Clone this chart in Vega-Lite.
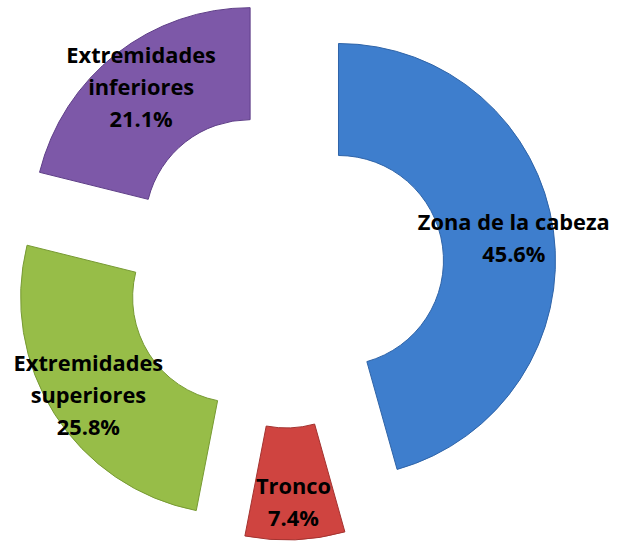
{
  "$schema": "https://vega.github.io/schema/vega-lite/v6.json",
  "autosize": {"type": "none"},
  "padding": {"left": 0, "top": 0, "right": 54, "bottom": 13},
  "width": 568,
  "height": 532,
  "background": "white",
  "view": {"stroke": null},
  "data": {
    "values": [
      {"idx": 1, "parte": "Zona de la cabeza", "pct": 45.6, "label": "Zona de la cabeza\n45.6%"},
      {"idx": 2, "parte": "Tronco", "pct": 7.4, "label": "Tronco\n7.4%"},
      {"idx": 3, "parte": "Extremidades superiores", "pct": 25.8, "label": "Extremidades\nsuperiores\n25.8%"},
      {"idx": 4, "parte": "Extremidades inferiores", "pct": 21.1, "label": "Extremidades\ninferiores\n21.1%"}
    ]
  },
  "encoding": {
    "theta": {"field": "pct", "type": "quantitative", "stack": true},
    "order": {"field": "idx", "type": "quantitative"}
  },
  "layer": [
    {
      "mark": {
        "type": "arc",
        "radius": 217,
        "radius2": 105,
        "strokeWidth": 1,
        "xOffset": {"expr": "55*sin((datum.pct_start+datum.pct_end)*PI/99.9)"},
        "yOffset": {"expr": "2-55*cos((datum.pct_start+datum.pct_end)*PI/99.9)"}
      },
      "encoding": {
        "color": {
          "field": "parte",
          "type": "nominal",
          "scale": {
            "domain": ["Zona de la cabeza", "Tronco", "Extremidades superiores", "Extremidades inferiores"],
            "range": ["#3e7ecd", "#cf4440", "#97bd48", "#7d58a8"]
          },
          "legend": null
        },
        "stroke": {
          "field": "parte",
          "type": "nominal",
          "scale": {
            "domain": ["Zona de la cabeza", "Tronco", "Extremidades superiores", "Extremidades inferiores"],
            "range": ["#2f64a8", "#a33330", "#779a33", "#5f3f88"]
          },
          "legend": null
        }
      }
    },
    {
      "mark": {
        "type": "text",
        "radius": 232,
        "font": "Open Sans",
        "fontWeight": "bold",
        "fontSize": 21.8,
        "lineHeight": 32,
        "lineBreak": "\n",
        "align": "center",
        "baseline": "middle",
        "color": "black",
        "dy": {"expr": "5-16*(length(split(datum.label, '\\n'))-1)"}
      },
      "encoding": {
        "text": {"field": "label", "type": "nominal"}
      }
    }
  ]
}
